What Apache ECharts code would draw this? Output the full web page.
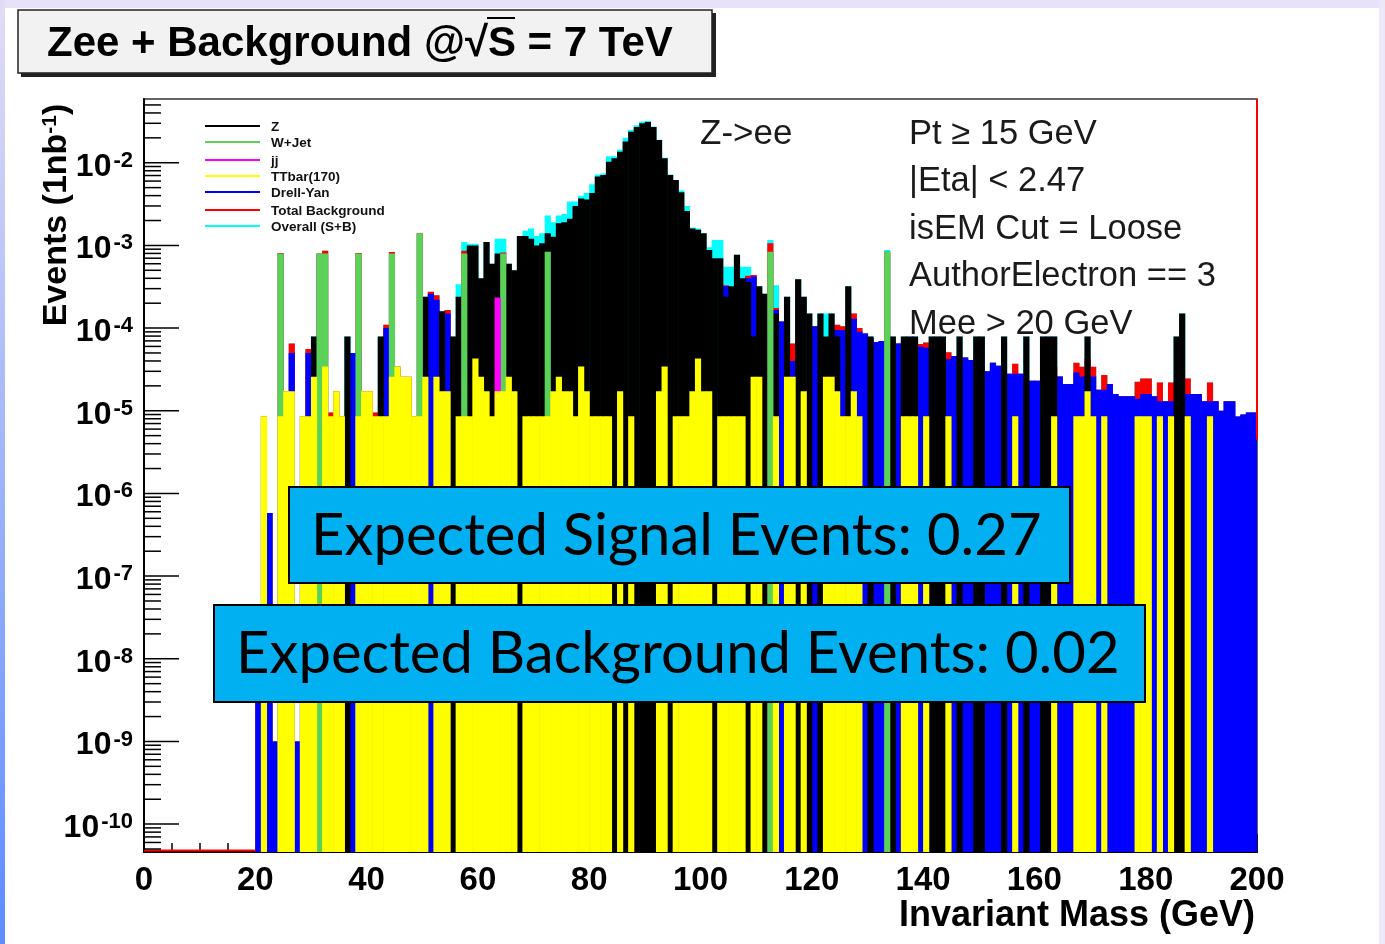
<!DOCTYPE html>
<html>
<head>
<meta charset="utf-8">
<script src="https://cdn.jsdelivr.net/npm/echarts@6/dist/echarts.min.js"></script>
<style>
  html, body { margin: 0; padding: 0; background: #fff; }
  #chart { width: 1385px; height: 944px; }
</style>
</head>
<body>
<div id="chart"></div>
<script>
// Invariant mass of electron pairs, 1 GeV bins, events per 1 nb^-1.
const binWidth = 1;
const yRange = [4.6e-11, 0.059];
const yDecades = [-10, -9, -8, -7, -6, -5, -4, -3, -2];
const yMinorMantissas = [2, 3, 4, 5, 6, 7, 8, 9];

const seriesNames = ['Z', 'W+Jet', 'jj', 'TTbar(170)', 'Drell-Yan', 'Total Background', 'Overall (S+B)'];
const seriesColors = ['#000000', '#5ad25a', '#ff00ff', '#ffff00', '#0000ff', '#ff0000', '#00ffff'];

// [bin low edge (GeV), events]
const zee = [[30,7.9e-5],[36,7.9e-5],[42,7.9e-5],[50,2.4e-4],[53,1.6e-4],[55,7.9e-5],[56,2.4e-4],[58,1e-3],[59,1e-3],[60,4e-4],
  [61,1.1e-3],[62,6e-4],[63,8e-4],[64,4e-4],[65,6e-4],[66,5e-4],[67,1.3e-3],[68,1.3e-3],[69,1.2e-3],[70,1e-3],
  [71,1.06e-3],[72,1.4e-3],[73,1.27e-3],[74,1.85e-3],[75,1.9e-3],[76,2.1e-3],[77,3.0e-3],[78,3.7e-3],[79,3.6e-3],[80,4.3e-3],
  [81,6.8e-3],[82,7.1e-3],[83,1.03e-2],[84,1.13e-2],[85,1.36e-2],[86,1.8e-2],[87,2.37e-2],[88,2.7e-2],[89,3.0e-2],[90,3.1e-2],
  [91,2.7e-2],[92,1.88e-2],[93,1.13e-2],[94,7.1e-3],[95,6.2e-3],[96,4.4e-3],[97,2.6e-3],[98,1.6e-3],[99,1.55e-3],[100,1.4e-3],
  [101,8.8e-4],[102,7e-4],[103,7e-4],[104,2.4e-4],[105,3.2e-4],[106,7.7e-4],[107,4e-4],[108,3.6e-4],[109,7.9e-5],[110,3.2e-4],
  [111,2.6e-4],[113,1.5e-4],[115,2.4e-4],[117,3.9e-4],[118,2.4e-4],[119,1.5e-4],[121,1.5e-4],[122,7.9e-5],[123,1.5e-4],[124,7.9e-5],
  [126,3.2e-4],[130,7.9e-5],[134,7.9e-5],[136,7.9e-5],[137,7.9e-5],[138,7.9e-5],[141,7.9e-5],[142,7.9e-5],[143,7.9e-5],[146,7.9e-5],
  [149,7.9e-5],[150,7.9e-5],[154,7.9e-5],[158,7.9e-5],[161,7.9e-5],[162,7.9e-5],[163,7.9e-5],[169,7.9e-5],[185,7.9e-5],[186,1.5e-4]];

const wJet = [[24,8e-4],[31,8e-4],[32,8e-4],[38,8e-4],[44,8e-4],[49,1.4e-3],[57,8e-4],[64,8e-4],[72,8.4e-4],[112,8.4e-4],[133,8.4e-4]];

const jj = [[63,2.35e-4]];

const ttbar = [[21,8.6e-6],[24,8.6e-6],[25,1.72e-5],[26,1.72e-5],[28,8.6e-6],[29,8.6e-6],[30,2.58e-5],[32,3.44e-5],[33,8.6e-6],[34,1.72e-5],
  [35,8.6e-6],[38,8.6e-6],[39,1.72e-5],[40,1.72e-5],[41,8.6e-6],[42,8.6e-6],[43,8.6e-6],[44,2.58e-5],[45,3.44e-5],[46,2.58e-5],
  [47,2.58e-5],[48,8.6e-6],[49,8.6e-6],[50,2.58e-5],[52,2.58e-5],[53,1.72e-5],[54,1.72e-5],[56,8.6e-6],[57,8.6e-6],[58,8.6e-6],
  [59,4.3e-5],[60,2.58e-5],[61,1.72e-5],[62,8.6e-6],[63,1.72e-5],[64,1.72e-5],[65,2.58e-5],[66,1.72e-5],[68,8.6e-6],[69,8.6e-6],
  [70,8.6e-6],[71,8.6e-6],[72,8.6e-6],[73,1.72e-5],[74,2.58e-5],[75,1.72e-5],[76,1.72e-5],[77,8.6e-6],[78,3.44e-5],[79,1.72e-5],
  [80,8.6e-6],[81,8.6e-6],[82,8.6e-6],[83,8.6e-6],[85,1.72e-5],[87,8.6e-6],[92,1.72e-5],[93,3.44e-5],[95,8.6e-6],[96,8.6e-6],
  [97,8.6e-6],[98,1.72e-5],[99,4.3e-5],[100,1.72e-5],[101,1.72e-5],[103,8.6e-6],[104,8.6e-6],[105,8.6e-6],[106,8.6e-6],[107,8.6e-6],
  [109,2.58e-5],[110,2.58e-5],[113,8.6e-6],[115,2.58e-5],[116,2.58e-5],[118,1.72e-5],[122,2.58e-5],[123,2.58e-5],[124,1.72e-5],[125,8.6e-6],
  [126,8.6e-6],[127,1.72e-5],[128,8.6e-6],[136,8.6e-6],[137,8.6e-6],[138,8.6e-6],[140,8.6e-6],[144,8.6e-6],[156,8.6e-6],[163,8.6e-6],
  [167,8.6e-6],[168,8.6e-6],[169,1.72e-5],[170,8.6e-6],[172,8.6e-6],[178,8.6e-6],[179,8.6e-6],[180,8.6e-6],[182,8.6e-6],[184,8.6e-6],
  [187,8.6e-6],[191,8.6e-6]];

const drellYan = [[20,3e-8],[22,5.8e-7],[23,1e-9],[26,5e-5],[27,1e-9],[29,5e-5],[37,5e-5],[43,1e-4],[51,2.6e-4],[52,2.2e-4],
  [54,1.5e-4],[104,3.2e-4],[108,4e-4],[109,4.2e-4],[113,1.66e-4],[114,1.2e-4],[116,4e-5],[120,1.05e-4],[124,9.5e-5],[125,9.5e-5],
  [127,1.3e-4],[128,9e-5],[129,8.6e-5],[130,7.5e-5],[131,6.8e-5],[132,7e-5],[134,6.5e-5],[135,6.5e-5],[136,6e-5],[139,6e-5],
  [140,5.8e-5],[141,5.5e-5],[144,4.2e-5],[145,4.6e-5],[146,4.4e-5],[147,4.4e-5],[148,4.1e-5],[151,3e-5],[152,3.8e-5],[153,3.5e-5],
  [155,2.8e-5],[156,2.8e-5],[157,2.8e-5],[159,2.3e-5],[160,2.3e-5],[163,2.6e-5],[164,2.6e-5],[165,2.1e-5],[166,2.1e-5],[167,2.9e-5],
  [168,2.6e-5],[169,2.6e-5],[170,2.6e-5],[171,1.8e-5],[172,1.8e-5],[173,2.1e-5],[174,1.6e-5],[175,1.5e-5],[176,1.5e-5],[177,1.5e-5],
  [178,1.4e-5],[179,1.6e-5],[180,1.6e-5],[181,1.5e-5],[182,1.3e-5],[183,1.3e-5],[184,1.3e-5],[187,1.6e-5],[188,1.6e-5],[189,1.6e-5],
  [190,1.3e-5],[191,1.3e-5],[192,1.3e-5],[193,1e-5],[194,1.3e-5],[195,1.3e-5],[196,8.5e-6],[197,9e-6],[198,9.5e-6],[199,9.5e-6]];

const totalBkg = [[20,3e-8],[21,8.6e-6],[22,5.8e-7],[23,1e-9],[24,8.1e-4],[25,1.72e-5],[26,6.5e-5],[27,1e-9],[28,8.6e-6],[29,5.6e-5],
  [30,2.58e-5],[31,8e-4],[32,8.6e-4],[33,9.5e-6],[34,1.72e-5],[35,8.6e-6],[37,5e-5],[38,8.1e-4],[39,1.72e-5],[40,1.72e-5],
  [41,9.5e-6],[42,8.6e-6],[43,1.1e-4],[44,8.3e-4],[45,3.44e-5],[46,2.58e-5],[47,2.58e-5],[48,8.6e-6],[49,1.4e-3],[50,2.58e-5],
  [51,2.75e-4],[52,2.5e-4],[53,1.72e-5],[54,1.65e-4],[56,8.6e-6],[57,8.6e-4],[58,8.6e-6],[59,4.3e-5],[60,2.58e-5],[61,1.72e-5],
  [62,8.6e-6],[63,2.5e-4],[64,8.2e-4],[65,2.58e-5],[66,1.72e-5],[68,8.6e-6],[69,8.6e-6],[70,8.6e-6],[71,8.6e-6],[72,8.5e-4],
  [73,1.72e-5],[74,2.58e-5],[75,1.72e-5],[76,1.72e-5],[77,8.6e-6],[78,3.44e-5],[79,1.72e-5],[80,8.6e-6],[81,8.6e-6],[82,8.6e-6],
  [83,8.6e-6],[85,1.72e-5],[87,8.6e-6],[92,1.72e-5],[93,3.44e-5],[95,8.6e-6],[96,8.6e-6],[97,8.6e-6],[98,1.72e-5],[99,4.3e-5],
  [100,1.72e-5],[101,1.72e-5],[103,8.6e-6],[104,3.3e-4],[105,8.6e-6],[106,8.6e-6],[107,8.6e-6],[108,4.3e-4],[109,4.4e-4],[110,2.58e-5],
  [112,1.06e-3],[113,1.75e-4],[114,1.2e-4],[115,2.58e-5],[116,6.5e-5],[118,1.72e-5],[120,1.05e-4],[122,2.58e-5],[123,2.58e-5],[124,1.1e-4],
  [125,1.05e-4],[126,8.6e-6],[127,1.5e-4],[128,1e-4],[129,8.6e-5],[130,7.5e-5],[131,6.8e-5],[132,7e-5],[133,8.4e-4],[134,6.5e-5],
  [135,6.5e-5],[136,6.9e-5],[137,8.6e-6],[138,8.6e-6],[139,6.4e-5],[140,6.7e-5],[141,5.5e-5],[144,5.1e-5],[145,4.6e-5],[146,4.4e-5],
  [147,4.4e-5],[148,4.1e-5],[151,3e-5],[152,3.8e-5],[153,3.5e-5],[155,2.8e-5],[156,3.7e-5],[157,2.8e-5],[159,2.3e-5],[160,2.3e-5],
  [163,3.4e-5],[164,2.6e-5],[165,2.1e-5],[166,2.1e-5],[167,3.8e-5],[168,3.4e-5],[169,4.3e-5],[170,3.4e-5],[171,1.8e-5],[172,2.7e-5],
  [173,2.1e-5],[174,1.6e-5],[175,1.5e-5],[176,1.5e-5],[177,1.5e-5],[178,2.25e-5],[179,2.45e-5],[180,2.45e-5],[181,1.5e-5],[182,2.2e-5],
  [183,1.3e-5],[184,2.2e-5],[187,2.45e-5],[188,1.6e-5],[189,1.6e-5],[190,1.3e-5],[191,2.2e-5],[192,1.3e-5],[193,1e-5],[194,1.3e-5],
  [195,1.3e-5],[196,8.5e-6],[197,9e-6],[198,9.5e-6],[199,9.5e-6]];

const overall = [[20,3e-8],[21,8.6e-6],[22,5.8e-7],[23,1e-9],[24,8.1e-4],[25,1.72e-5],[26,6.5e-5],[27,1e-9],[28,8.6e-6],[29,5.6e-5],
  [30,7.9e-5],[31,8e-4],[32,8.6e-4],[33,9.5e-6],[34,1.72e-5],[35,8.6e-6],[36,7.9e-5],[37,5e-5],[38,8.1e-4],[39,1.72e-5],
  [40,1.72e-5],[41,9.5e-6],[42,7.9e-5],[43,1.1e-4],[44,8.3e-4],[45,3.44e-5],[46,2.58e-5],[47,2.58e-5],[48,8.6e-6],[49,1.4e-3],
  [50,2.4e-4],[51,2.75e-4],[52,2.5e-4],[53,1.6e-4],[54,1.65e-4],[55,7.9e-5],[56,3.4e-4],[57,1.1e-3],[58,1.05e-3],[59,1.05e-3],
  [60,4e-4],[61,1.1e-3],[62,6e-4],[63,1.2e-3],[64,1.2e-3],[65,6e-4],[66,5e-4],[67,1.3e-3],[68,1.5e-3],[69,1.6e-3],
  [70,1.3e-3],[71,1.4e-3],[72,2.3e-3],[73,1.9e-3],[74,2.3e-3],[75,2.4e-3],[76,3.4e-3],[77,3.4e-3],[78,4.0e-3],[79,4.3e-3],
  [80,5.5e-3],[81,7.2e-3],[82,7.4e-3],[83,1.2e-2],[84,1.2e-2],[85,1.45e-2],[86,2.0e-2],[87,2.5e-2],[88,2.85e-2],[89,3.15e-2],
  [90,3.2e-2],[91,2.75e-2],[92,1.9e-2],[93,1.15e-2],[94,7.2e-3],[95,6.2e-3],[96,4.6e-3],[97,3.0e-3],[98,1.65e-3],[99,1.6e-3],
  [100,1.4e-3],[101,9.5e-4],[102,1.16e-3],[103,1.16e-3],[104,5.5e-4],[105,5.5e-4],[106,7.7e-4],[107,5.5e-4],[108,5.5e-4],[109,4.4e-4],
  [110,3.2e-4],[111,2.6e-4],[112,1.16e-3],[113,3.3e-4],[114,1.2e-4],[115,2.4e-4],[116,6.5e-5],[117,3.9e-4],[118,2.4e-4],[119,1.5e-4],
  [120,1.05e-4],[121,1.5e-4],[122,1.5e-4],[123,1.5e-4],[124,1.1e-4],[125,1.05e-4],[126,3.2e-4],[127,1.5e-4],[128,1e-4],[129,8.6e-5],
  [130,7.9e-5],[131,6.8e-5],[132,7e-5],[133,8.8e-4],[134,7.9e-5],[135,6.5e-5],[136,7.9e-5],[137,7.9e-5],[138,7.9e-5],[139,6.4e-5],
  [140,6.7e-5],[141,7.9e-5],[142,7.9e-5],[143,7.9e-5],[144,5.1e-5],[145,4.6e-5],[146,7.9e-5],[147,4.4e-5],[148,4.1e-5],[149,7.9e-5],
  [150,7.9e-5],[151,3e-5],[152,3.8e-5],[153,3.5e-5],[154,7.9e-5],[155,2.8e-5],[156,3.7e-5],[157,2.8e-5],[158,7.9e-5],[159,2.3e-5],
  [160,2.3e-5],[161,7.9e-5],[162,7.9e-5],[163,7.9e-5],[164,2.6e-5],[165,2.1e-5],[166,2.1e-5],[167,3.8e-5],[168,3.4e-5],[169,7.9e-5],
  [170,3.4e-5],[171,1.8e-5],[172,2.7e-5],[173,2.1e-5],[174,1.6e-5],[175,1.5e-5],[176,1.5e-5],[177,1.5e-5],[178,2.25e-5],[179,2.45e-5],
  [180,2.45e-5],[181,1.5e-5],[182,2.2e-5],[183,1.3e-5],[184,2.2e-5],[185,7.9e-5],[186,1.5e-4],[187,2.45e-5],[188,1.6e-5],[189,1.6e-5],
  [190,1.3e-5],[191,2.2e-5],[192,1.3e-5],[193,1e-5],[194,1.3e-5],[195,1.3e-5],[196,8.5e-6],[197,9e-6],[198,9.5e-6],[199,9.5e-6]];

// empty range of the total background drawn along the floor, and its closing edge
const totalBkgEmptyRange = [[0, 20]];
const totalBkgEdge = [[200, 4.5e-6]];

const cuts = ['Pt \u2265 15 GeV', '|Eta| < 2.47', 'isEM Cut = Loose', 'AuthorElectron == 3', 'Mee > 20 GeV'];
const expectedSignal = 0.27;
const expectedBackground = 0.02;

const ROOT_FONT = '"Liberation Sans", Arial, Helvetica, sans-serif';
const BOX_FONT = 'Lato, "Open Sans", sans-serif';

// filled histogram, one rectangle per bin, floored at the bottom of the axis
function histRender(color) {
  return function (params, api) {
    const b = api.value(0);
    const v = api.value(1);
    const top = api.coord([b, v]);
    const bot = api.coord([b + binWidth, yRange[0]]);
    return {
      type: 'rect',
      shape: { x: top[0], y: top[1], width: bot[0] - top[0] + 0.6, height: bot[1] - top[1] },
      style: { fill: color }
    };
  };
}

function histSeries(name, data, color) {
  return {
    type: 'custom', name: name, data: data, renderItem: histRender(color),
    encode: { x: 0, y: 1 }, silent: true, animation: false, clip: true
  };
}

// y axis ticks (long at each decade, short at 2..9)
const yTickData = [];
for (let e = -11; e <= -2; e++) {
  if (yDecades.indexOf(e) >= 0) yTickData.push([0, Math.pow(10, e), 1]);
  yMinorMantissas.forEach(function (m) {
    const v = m * Math.pow(10, e);
    if (v > yRange[0] && v < yRange[1]) yTickData.push([0, v, 0]);
  });
}
const yLabelData = yDecades.map(function (e) { return [0, Math.pow(10, e), e]; });

const chart = echarts.init(document.getElementById('chart'), null, { renderer: 'canvas' });

const legendGraphics = [];
const legendRows = [126, 142, 160, 176, 192, 210, 226];
seriesNames.forEach(function (n, i) {
  legendGraphics.push({
    type: 'line', z: 50, shape: { x1: 205, y1: legendRows[i], x2: 260, y2: legendRows[i] },
    style: { stroke: seriesColors[i], lineWidth: 2 }
  });
  legendGraphics.push({
    type: 'text', z: 50, x: 271, y: legendRows[i] + 1,
    style: { text: n, fill: '#111', font: 'bold 13.5px ' + ROOT_FONT, verticalAlign: 'middle' }
  });
});

const cutGraphics = cuts.map(function (t, i) {
  return {
    type: 'text', z: 50, x: 909, y: 134 + i * 47.5,
    style: { text: t, fill: '#1a1a1a', font: '34.5px ' + ROOT_FONT, verticalAlign: 'middle' }
  };
});

function infoBox(x, y, w, h, text) {
  return [
    { type: 'rect', z: 100, shape: { x: x, y: y, width: w, height: h },
      style: { fill: '#00b0f0', stroke: '#000', lineWidth: 2 } },
    { type: 'text', z: 101, x: x + 22, y: y + h / 2 + 1,
      style: { text: text, fill: '#000', font: '58px ' + BOX_FONT, verticalAlign: 'middle' } }
  ];
}

const option = {
  backgroundColor: '#ffffff',
  animation: false,
  grid: { left: 144, top: 99, right: 128, bottom: 92, show: true, borderColor: '#333', borderWidth: 1.5, backgroundColor: 'transparent' },
  xAxis: {
    type: 'value', min: 0, max: 200, interval: 20,
    axisLine: { show: true, lineStyle: { color: '#000', width: 2 } },
    axisTick: { show: true, inside: true, length: 18, lineStyle: { color: '#000', width: 1.5 } },
    minorTick: { show: true, splitNumber: 4, length: 9, lineStyle: { color: '#000', width: 1.5 } },
    axisLabel: { fontFamily: ROOT_FONT, fontWeight: 'bold', fontSize: 33, color: '#000', margin: 12 },
    splitLine: { show: false }
  },
  yAxis: {
    type: 'log', min: yRange[0], max: yRange[1],
    axisLine: { show: true, lineStyle: { color: '#000', width: 2 } },
    axisTick: { show: false }, axisLabel: { show: false }, splitLine: { show: false }
  },
  series: [
    histSeries(seriesNames[6], overall, seriesColors[6]),
    histSeries(seriesNames[5], totalBkg, seriesColors[5]),
    histSeries(seriesNames[4], drellYan, seriesColors[4]),
    histSeries(seriesNames[0], zee, seriesColors[0]),
    histSeries(seriesNames[1], wJet, seriesColors[1]),
    histSeries(seriesNames[2], jj, seriesColors[2]),
    histSeries(seriesNames[3], ttbar, seriesColors[3]),
    {
      type: 'custom', name: 'Total Background floor', data: totalBkgEmptyRange, silent: true, clip: false, z: 5,
      renderItem: function (params, api) {
        const a = api.coord([api.value(0), yRange[0]]);
        const b = api.coord([api.value(1), yRange[0]]);
        return { type: 'line', shape: { x1: a[0], y1: a[1] - 1.5, x2: b[0], y2: b[1] - 1.5 }, style: { stroke: '#ff0000', lineWidth: 2 } };
      }
    },
    {
      type: 'custom', name: 'Total Background edge', data: totalBkgEdge, silent: true, clip: false, z: 5,
      renderItem: function (params, api) {
        const a = api.coord([api.value(0), api.value(1)]);
        const b = api.coord([api.value(0), yRange[1]]);
        return { type: 'line', shape: { x1: a[0], y1: a[1], x2: b[0], y2: b[1] }, style: { stroke: '#ff0000', lineWidth: 2 } };
      }
    },
    {
      type: 'custom', name: 'y ticks', data: yTickData, silent: true, clip: false, z: 6,
      renderItem: function (params, api) {
        const p = api.coord([0, api.value(1)]);
        const len = api.value(2) ? 35 : 17;
        return { type: 'line', shape: { x1: p[0], y1: p[1], x2: p[0] + len, y2: p[1] }, style: { stroke: '#000', lineWidth: 1.5 } };
      }
    },
    {
      type: 'custom', name: 'y labels', data: yLabelData, silent: true, clip: false, z: 6,
      renderItem: function (params, api) {
        const p = api.coord([0, api.value(1)]);
        return {
          type: 'text', x: p[0] - 11, y: p[1] + 4,
          style: {
            text: '{b|10}{s|' + api.value(2) + '}', align: 'right', verticalAlign: 'middle',
            rich: {
              b: { fontSize: 32, fontWeight: 'bold', fontFamily: ROOT_FONT, fill: '#000', lineHeight: 34 },
              s: { fontSize: 22, fontWeight: 'bold', fontFamily: ROOT_FONT, fill: '#000', verticalAlign: 'top', lineHeight: 22, padding: [0, 0, 0, 2] }
            }
          }
        };
      }
    }
  ],
  graphic: [
    // slide frame bands
    { type: 'rect', z: -10, shape: { x: 0, y: 0, width: 1385, height: 8 }, style: { fill: '#e8e2f8' } },
    { type: 'rect', z: -10, shape: { x: 1379, y: 0, width: 6, height: 944 }, style: { fill: '#ece8f8' } },
    { type: 'rect', z: -9, shape: { x: 0, y: 0, width: 5, height: 944 },
      style: { fill: new echarts.graphic.LinearGradient(0, 0, 0, 1, [{ offset: 0, color: '#e2dcf6' }, { offset: 1, color: '#5c8cff' }]) } },
    // title box
    { type: 'rect', z: 20, shape: { x: 21, y: 13, width: 695, height: 64 }, style: { fill: '#222' } },
    { type: 'rect', z: 21, shape: { x: 18, y: 10, width: 694, height: 63 }, style: { fill: '#f2f2f2', stroke: '#222', lineWidth: 1.5 } },
    { type: 'text', z: 22, x: 47, y: 44, style: { text: 'Zee + Background @\u221AS = 7 TeV', fill: '#000', font: 'bold 42px ' + ROOT_FONT, verticalAlign: 'middle' } },
    { type: 'line', z: 22, shape: { x1: 487, y1: 18, x2: 515, y2: 18 }, style: { stroke: '#000', lineWidth: 2 } },
    // axis titles
    { type: 'text', z: 30, x: 1255, y: 916,
      style: { text: 'Invariant Mass (GeV)', fill: '#000', font: 'bold 36px ' + ROOT_FONT, align: 'right', verticalAlign: 'middle' } },
    { type: 'text', z: 30, x: 57, y: 215, rotation: Math.PI / 2,
      style: { text: 'Events (1nb{s|-1})', fill: '#000', font: 'bold 34px ' + ROOT_FONT, align: 'center', verticalAlign: 'middle',
        rich: { s: { fontSize: 21, fontWeight: 'bold', fontFamily: ROOT_FONT, fill: '#000', verticalAlign: 'top' } } } },
    // plot annotations
    { type: 'text', z: 50, x: 700, y: 134, style: { text: 'Z->ee', fill: '#1a1a1a', font: '35px ' + ROOT_FONT, verticalAlign: 'middle' } }
  ].concat(legendGraphics, cutGraphics,
    infoBox(289, 487, 781, 96, 'Expected Signal Events: ' + expectedSignal.toFixed(2)),
    infoBox(214, 605, 931, 97, 'Expected Background Events: ' + expectedBackground.toFixed(2)))
};

chart.setOption(option);
</script>
</body>
</html>
